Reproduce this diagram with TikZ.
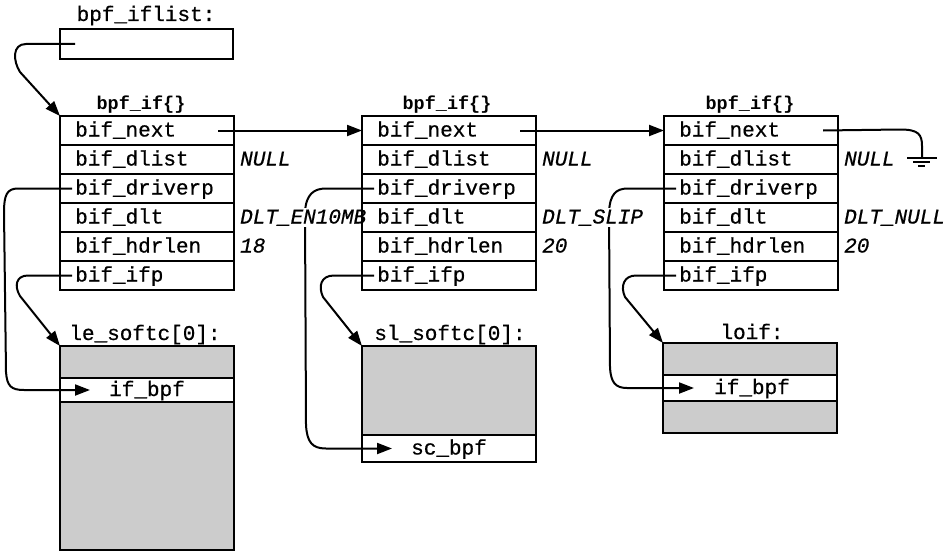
\documentclass[tikz,border=0pt]{standalone}
\usepackage{fontspec}
\setmonofont{Liberation Mono}[FakeBold=0.6]
\newfontfamily\monobf{Liberation Mono Bold}
\usetikzlibrary{arrows.meta}
\pgfdeclarelayer{bg}
\pgfsetlayers{bg,main}
\definecolor{boxgray}{RGB}{204,204,204}
\tikzset{
  cn/.style={line width=2pt, line join=round},
  arr/.style={cn, -{Triangle[length=15pt,width=11pt]}},
  row/.style={draw, line width=1.9pt, anchor=north west, minimum width=174pt, minimum height=29pt, inner sep=0pt, outer sep=0pt},
  gbox/.style={draw, fill=boxgray, line width=1.9pt, anchor=north west, minimum width=174pt, inner sep=0pt, outer sep=0pt},
  wrow/.style={draw, line width=1.9pt, anchor=north west, minimum width=174pt, inner sep=0pt, outer sep=0pt},
  fld/.style={anchor=base west, inner sep=0pt, font=\fontsize{21}{24}\selectfont\ttfamily},
  lbl/.style={anchor=base, inner sep=0pt, font=\fontsize{21}{24}\selectfont\ttfamily},
  val/.style={anchor=base west, inner sep=1pt, fill=white, font=\fontsize{21}{24}\selectfont\ttfamily\itshape},
  ttl/.style={anchor=base, inner sep=0pt, font=\fontsize{18.5}{20}\selectfont\monobf}
}
\newcommand\mkstruct[6]{%
  \node[ttl] (#1t) at (#2+#6,109) {bpf\_if\{\}};
  \node[row] (#1r1) at (#2,116) {};
  \node[row] (#1r2) at (#2,145) {};
  \node[row] (#1r3) at (#2,174) {};
  \node[row] (#1r4) at (#2,203) {};
  \node[row] (#1r5) at (#2,232) {};
  \node[row] (#1r6) at (#2,261) {};
  \node[fld] (#1next) at (#2+15,136.5) {bif\_next};
  \node[fld] (#1dls) at (#2+15,165.5) {bif\_dlist};
  \node[fld] (#1drv) at (#2+15,194.5) {bif\_driverp};
  \node[fld] (#1dlt) at (#2+15,223.5) {bif\_dlt};
  \node[fld] (#1hdr) at (#2+15,252.5) {bif\_hdrlen};
  \node[fld] (#1ifp) at (#2+15,281.5) {bif\_ifp};
  \node[val] (#1v2) at (#2+179,165.5) {#3};
  \node[val] (#1v4) at (#2+179,223.5) {#4};
  \node[val] (#1v5) at (#2+179,252.5) {#5};
}
\begin{document}
\begin{tikzpicture}[x=1pt,y=-1pt]
\useasboundingbox (0,0) rectangle (949,551);
% bpf_iflist
\node[lbl] (ifllab) at (146,21) {bpf\_iflist:};
\node[row, minimum width=173pt, minimum height=30pt] (ifl) at (60,29) {};
% structures
\mkstruct{s1}{60}{NULL}{DLT\_EN10MB}{18}{81}
\mkstruct{s2}{362}{NULL}{DLT\_SLIP}{20}{85}
\mkstruct{s3}{664}{NULL}{DLT\_NULL}{20}{86}
% le_softc[0]
\node[lbl] (lelab) at (145,340) {le\_softc[0]:};
\node[gbox, minimum height=32pt] (le) at (60,346) {};
\node[wrow, minimum height=24pt] (lerow) at (60,378) {};
\node[gbox, minimum height=148pt] (lebot) at (60,402) {};
\node[fld, anchor=base] (leif) at (147,396) {if\_bpf};
% sl_softc[0]
\node[lbl] (sllab) at (450,340) {sl\_softc[0]:};
\node[gbox, minimum height=89pt] (sl) at (362,346) {};
\node[wrow, minimum height=27pt] (slrow) at (362,435) {};
\node[fld, anchor=base] (slsc) at (449,454.5) {sc\_bpf};
% loif
\node[lbl] (lolab) at (752,339) {loif:};
\node[gbox, minimum height=32pt] (lo) at (663,343) {};
\node[wrow, minimum height=26pt] (lorow) at (663,375) {};
\node[gbox, minimum height=32pt] (lobot) at (663,401) {};
\node[fld, anchor=base] (loif) at (752,394) {if\_bpf};
% ground
\coordinate (gnd) at (922,158);
\draw[cn] ([xshift=-15pt]gnd) -- ([xshift=15pt]gnd);
\draw[cn] ([xshift=-9pt,yshift=-4pt]gnd) -- ([xshift=8pt,yshift=-4pt]gnd);
\draw[cn] ([xshift=-4pt,yshift=-8pt]gnd) -- ([xshift=3pt,yshift=-8pt]gnd);
% connectors
\begin{pgfonlayer}{bg}
\draw[arr] ([xshift=15pt]ifl.west) -- (26,44) .. controls (12,44) and (13,61) .. (20,72) -- (s1r1.north west);
\draw[arr] ([xshift=-16pt]s1r1.east) -- (s2r1.west);
\draw[arr] ([xshift=-16pt]s2r1.east) -- (s3r1.west);
\draw[cn] ([xshift=-15pt]s3r1.east) -- (900,129.5) .. controls (918,129.5) and (922,134) .. (922,146) -- (gnd);
\draw[arr] ([xshift=12pt]s1r3.west) -- (18,188.5) .. controls (7,188.5) and (4,195) .. (4,212) -- (6,372) .. controls (7,386) and (11,390) .. (24,390) -- ([xshift=30pt]lerow.west);
\draw[arr] ([xshift=12pt]s1r6.west) -- (28,275.5) .. controls (16,275.5) and (14,286) .. (20,296) -- (le.north west);
\draw[arr] ([xshift=12pt]s2r3.west) -- (326,188.5) .. controls (314,188.5) and (306,194) .. (305,212) -- (306,425) .. controls (307,442) and (312,448.5) .. (326,448.5) -- ([xshift=30pt]slrow.west);
\draw[arr] ([xshift=12pt]s2r6.west) -- (334,275.5) .. controls (321,275.5) and (318,286) .. (323,297) -- (sl.north west);
\draw[arr] ([xshift=12pt]s3r3.west) -- (628,188.5) .. controls (616,188.5) and (610,194) .. (609,212) -- (610,368) .. controls (611,382) and (615,388) .. (627,388) -- ([xshift=31pt]lorow.west);
\draw[arr] ([xshift=12pt]s3r6.west) -- (636,275.5) .. controls (624,275.5) and (620,286) .. (625,297) -- (lo.north west);
\end{pgfonlayer}
\end{tikzpicture}
\end{document}
